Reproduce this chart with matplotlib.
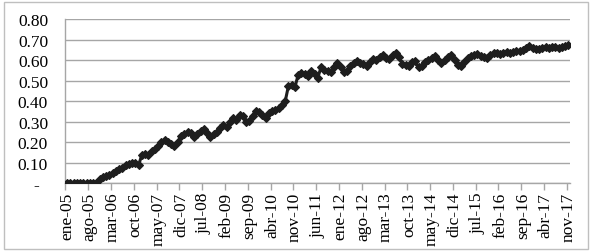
import matplotlib
matplotlib.use("Agg")
import matplotlib.pyplot as plt
from matplotlib.patches import Rectangle
import numpy as np

plt.rcParams['font.family'] = ['Liberation Serif', 'DejaVu Serif']

month_names = ['ene', 'feb', 'mar', 'abr', 'may', 'jun',
               'jul', 'ago', 'sep', 'oct', 'nov', 'dic']
months = [f"{m}-{y:02d}" for y in range(5, 18) for m in month_names][:155]

values = [
    # 2005
    0, 0, 0, 0, 0, 0, 0, 0, 0, 0.003, 0.02, 0.03,
    # 2006
    0.035, 0.04, 0.05, 0.06, 0.07, 0.075, 0.09, 0.095, 0.10, 0.10, 0.09, 0.14,
    # 2007
    0.145, 0.14, 0.16, 0.165, 0.18, 0.20, 0.21, 0.20, 0.19, 0.18, 0.20, 0.23,
    # 2008
    0.24, 0.25, 0.245, 0.225, 0.24, 0.255, 0.265, 0.245, 0.225, 0.24, 0.25, 0.27,
    # 2009
    0.285, 0.275, 0.30, 0.32, 0.31, 0.335, 0.33, 0.30, 0.305, 0.33, 0.355, 0.35,
    # 2010
    0.335, 0.32, 0.345, 0.355, 0.36, 0.365, 0.38, 0.40, 0.475, 0.48, 0.47, 0.53,
    # 2011
    0.54, 0.535, 0.525, 0.55, 0.535, 0.515, 0.565, 0.555, 0.55, 0.545, 0.565, 0.585,
    # 2012
    0.565, 0.545, 0.55, 0.57, 0.585, 0.595, 0.585, 0.58, 0.57, 0.59, 0.605, 0.60,
    # 2013
    0.615, 0.625, 0.61, 0.605, 0.625, 0.635, 0.615, 0.58, 0.575, 0.57, 0.59, 0.595,
    # 2014
    0.565, 0.57, 0.59, 0.60, 0.61, 0.62, 0.60, 0.585, 0.60, 0.615, 0.625, 0.60,
    # 2015
    0.575, 0.57, 0.59, 0.61, 0.62, 0.625, 0.63, 0.62, 0.615, 0.61, 0.625, 0.635,
    # 2016
    0.635, 0.63, 0.635, 0.64, 0.635, 0.64, 0.645, 0.645, 0.65, 0.66, 0.67, 0.66,
    # 2017
    0.655, 0.655, 0.66, 0.665, 0.66, 0.665, 0.665, 0.66, 0.665, 0.67, 0.675,
]

y_ticks = [0, 0.1, 0.2, 0.3, 0.4, 0.5, 0.6, 0.7, 0.8]
y_labels = ['-  ', '0.10', '0.20', '0.30', '0.40', '0.50', '0.60', '0.70', '0.80']

fig = plt.figure(figsize=(5.92, 2.53), dpi=100)
ax = fig.add_axes([0.1105, 0.2715, 0.8525, 0.6483])

x = np.arange(len(values))
ax.plot(x, values, color='#1e1e1e', linewidth=2.2, marker='D',
        markersize=4.5, markeredgewidth=0.8, markeredgecolor='#1e1e1e', zorder=3)

ax.set_xlim(-0.5, len(values) - 0.5)
ax.set_ylim(0, 0.8)

ax.set_yticks(y_ticks)
ax.set_yticklabels(y_labels, fontsize=12.5)
ax.tick_params(axis='y', length=0, pad=12.5)
ax.yaxis.grid(True, color='#a6a6a6', linewidth=1.0)
ax.set_axisbelow(True)

label_idx = list(range(0, len(values), 7))
ax.set_xticks(label_idx)
ax.set_xticklabels([months[i] for i in label_idx], rotation=90, fontsize=12.5)
ax.tick_params(axis='x', which='major', length=0, pad=6)
ax.set_xticks([i - 0.5 for i in label_idx], minor=True)
ax.tick_params(axis='x', which='minor', length=5, color='#a6a6a6', width=1.0)

for side in ['top', 'right']:
    ax.spines[side].set_visible(False)
for side in ['left', 'bottom']:
    ax.spines[side].set_color('#a6a6a6')
    ax.spines[side].set_linewidth(1.0)

fig.patches.append(Rectangle((0.006, 0.012), 0.987, 0.976, transform=fig.transFigure,
                             fill=False, edgecolor='#bfbfbf', linewidth=1.0))

fig.savefig('out.png', dpi=100)
